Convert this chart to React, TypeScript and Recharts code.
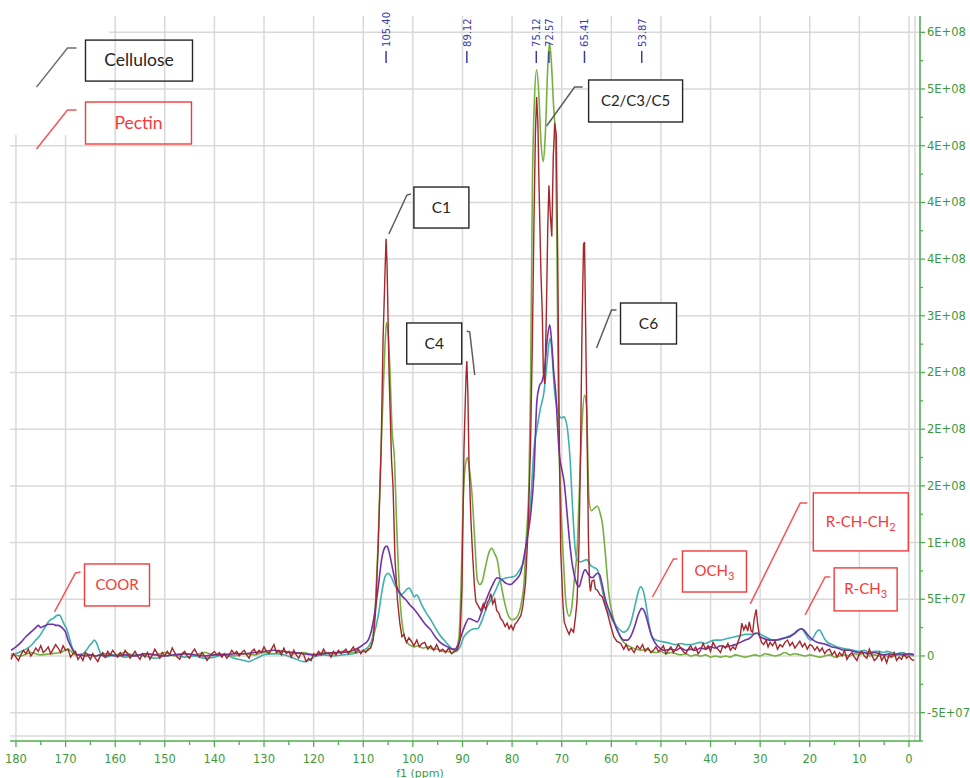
import React from 'react';
import {
  LineChart,
  Line,
  XAxis,
  YAxis,
  CartesianGrid,
  ReferenceLine,
  ReferenceArea,
  ReferenceDot,
  Label,
} from 'recharts';

// ---------- axis ticks (ppm / intensity in millions) ----------
const X_TICKS = [0, 5, 10, 15, 20, 25, 30, 35, 40, 45, 50, 55, 60, 65, 70, 75, 80, 85, 90, 95, 100, 105, 110, 115, 120, 125, 130, 135, 140, 145, 150, 155, 160, 165, 170, 175, 180];
const X_GRID = [0, 10, 20, 30, 40, 50, 60, 70, 80, 90, 100, 110, 120, 130, 140, 150, 160, 170, 180];
const Y_TICKS = [-75, -50, -25, 0, 25, 50, 75, 100, 125, 150, 175, 200, 225, 250, 275, 300, 325, 350, 375, 400, 425, 450, 475, 500, 525, 550];
const Y_MAJOR = [-50, 0, 50, 100, 150, 200, 250, 300, 350, 400, 450, 500, 550];
const Y_LABELS = ['-5E+07', '0', '5E+07', '1E+08', '2E+08', '2E+08', '2E+08', '3E+08', '4E+08', '4E+08', '4E+08', '5E+08', '6E+08'];

// ---------- peak picking labels ----------
const PEAK_PPM = [105.4, 89.12, 75.12, 72.57, 65.41, 53.87];
const PEAK_TEXT = ['105.40', '89.12', '75.12', '72.57', '65.41', '53.87'];

// ---------- spectra: [ppm, intensity (x1e6)] ----------
const RED: [number, number][] = [
  [181, -3], [180.5, 2], [180, -1], [179.5, -4], [179, 1], [178.5, 5], [178, 2], [177.5, 6], [177, 0], [176.5, 3],
  [176, 7], [175.5, 4], [175, 9], [174.5, 3], [174, 5], [173.5, 8], [173, 2], [172.5, 6], [172, 10], [171.5, 7],
  [171, 3], [170.5, 9], [170, 5], [169.5, 6], [169, -1], [168.5, 2], [168, 4], [167.5, -3], [167, 0], [166.5, -4],
  [166, 3], [165.5, 1], [165, -3], [164.5, 2], [164, -2], [163.5, -5], [163, 0], [162.5, 3], [162, -1], [161.5, 4],
  [161, 1], [160.5, 5], [160, 2], [159.5, -1], [159, 3], [158.5, 0], [158, 5], [157.5, 2], [157, -2], [156.5, 1],
  [156, 4], [155.5, 0], [155, -3], [154.5, 2], [154, -1], [153.5, 3], [153, -3], [152.5, 1], [152, 6], [151.5, 2],
  [151, -2], [150.5, 3], [150, 0], [149.5, 4], [149, 1], [148.5, 7], [148, 3], [147.5, -1], [147, -3], [146.5, 2],
  [146, 4], [145.5, 0], [145, -2], [144.5, 3], [144, 6], [143.5, 2], [143, -1], [142.5, 3], [142, 0], [141.5, -4],
  [141, -1], [140.5, 2], [140, 4], [139.5, 1], [139, 3], [138.5, -1], [138, 2], [137.5, -2], [137, 1], [136.5, 5],
  [136, 2], [135.5, 4], [135, 0], [134.5, 3], [134, 5], [133.5, 1], [133, -2], [132.5, 4], [132, 6], [131.5, 2],
  [131, 5], [130.5, 3], [130, 8], [129.5, 4], [129, 2], [128.5, 6], [128, 10], [127.5, 3], [127, 5], [126.5, 1],
  [126, 7], [125.5, 2], [125, 4], [124.5, -1], [124, 5], [123.5, 1], [123, -2], [122.5, 3], [122, 1], [121.5, -5],
  [121, -2], [120.5, -4], [120, 2], [119.5, 0], [119, 4], [118.5, 1], [118, 6], [117.5, 2], [117, 3], [116.5, -1],
  [116, 4], [115.5, 1], [115, 5], [114.5, 2], [114, 4], [113.5, 6], [113, 2], [112.5, 5], [112, 8], [111.5, 3],
  [111, 6], [110.5, 2], [110, 5], [109.5, 3], [109, 6], [108.5, 7], [108, 14], [107.5, 40], [107, 95], [106.4, 182],
  [106, 280], [105.6, 340], [105.4, 368], [105.2, 345], [104.8, 250], [104.3, 173], [104, 150], [103.6, 85], [103.1, 49], [102.6, 28],
  [102.2, 17], [101.8, 19], [101.3, 12], [100.8, 16], [100.3, 13], [99.8, 9], [99.2, 14], [98.7, 8], [98.2, 11], [97.6, 12],
  [97, 6], [96.4, 9], [95.8, 5], [95.2, 10], [94.6, 4], [94, 6], [93.4, 3], [92.8, 7], [92.2, 2], [91.6, 4],
  [91, 6], [90.5, 14], [90.1, 60], [89.7, 182], [89.3, 245], [89.12, 260], [88.9, 230], [88.7, 173], [88.3, 120], [88, 93],
  [87.6, 62], [87.3, 48], [86.8, 44], [86.3, 40], [85.8, 46], [85.3, 41], [85, 47], [84.6, 50], [84.3, 55], [83.9, 46],
  [83.5, 50], [83.1, 40], [82.7, 38], [82.3, 33], [81.9, 31], [81.4, 26], [81, 29], [80.6, 24], [80.2, 27], [79.8, 23],
  [79.4, 28], [79, 30], [78.6, 33], [78.2, 36], [77.8, 45], [77.3, 64], [76.8, 110], [76.3, 182], [75.9, 280], [75.6, 380],
  [75.3, 460], [75.05, 493], [74.8, 470], [74.5, 400], [74.2, 340], [73.9, 300], [73.7, 250], [73.4, 240], [73.1, 300], [72.8, 380],
  [72.57, 415], [72.3, 390], [72, 370], [71.7, 440], [71.4, 470], [71.1, 460], [70.8, 350], [70.5, 200], [70.2, 93], [69.8, 50],
  [69.5, 30], [69, 24], [68.5, 19], [68.1, 24], [67.6, 21], [67.2, 35], [66.9, 49], [66.5, 100], [66.2, 182], [65.9, 290],
  [65.6, 363], [65.4, 365], [65.2, 300], [64.9, 200], [64.6, 100], [64.4, 65], [64.2, 57], [63.9, 66], [63.5, 67], [63.2, 59],
  [62.8, 58], [62.3, 54], [61.8, 52], [61.3, 45], [60.8, 38], [60.2, 28], [59.5, 17], [58.9, 13], [58.1, 11], [57.5, 6],
  [57, 10], [56.5, 5], [56, 7], [55.4, 3], [54.8, 9], [54.2, 6], [53.7, 10], [53.2, 4], [52.6, 7], [52, 3],
  [51.5, 5], [51, 8], [50.5, 4], [50, 6], [49.5, 9], [49, 2], [48.5, 5], [48, 8], [47.5, 3], [47, 6],
  [46.5, 10], [46, 7], [45.5, 4], [45, 2], [44.5, 6], [44, 9], [43.5, 5], [43, 8], [42.5, 2], [42, 5],
  [41.5, 11], [41, 6], [40.5, 9], [40, 4], [39.5, 12], [39, 8], [38.5, 6], [38, 3], [37.5, 9], [37, 7],
  [36.5, 11], [36, 5], [35.5, 8], [35, 6], [34.5, 12], [34, 18], [33.7, 29], [33.3, 23], [32.9, 27], [32.5, 22],
  [32.2, 30], [31.8, 22], [31.5, 21], [31.2, 33], [30.8, 41], [30.5, 28], [30.1, 17], [29.7, 12], [29.3, 10], [28.8, 14],
  [28.4, 8], [28, 12], [27.5, 9], [27, 13], [26.5, 6], [26, 10], [25.5, 8], [25, 12], [24.5, 14], [24, 9],
  [23.5, 12], [23, 7], [22.5, 10], [22, 13], [21.5, 8], [21, 11], [20.5, 6], [20, 10], [19.5, 9], [19, 5],
  [18.5, 8], [18, 4], [17.5, 7], [17, 2], [16.5, 5], [16, 6], [15.5, 1], [15, 4], [14.5, -1], [14, 3],
  [13.5, 0], [13, 5], [12.5, -3], [12, 1], [11.5, 3], [11, -1], [10.5, -4], [10, 2], [9.5, 4], [9, 0],
  [8.5, -2], [8, 6], [7.5, 1], [7, -4], [6.5, -2], [6, 3], [5.5, -4], [5, 0], [4.5, -6], [4, 1],
  [3.5, -1], [3, 3], [2.5, -4], [2, -1], [1.5, -3], [1, 2], [0.5, -2], [0, 0], [-0.5, -3], [-1, -4],
];

const GREEN: [number, number][] = [
  [181, 2], [179, 0], [177, 3], [175, 1], [173, 2], [171, 3], [169.5, 6], [168, 1], [166, 2], [164, 0],
  [162, 2], [160, 1], [158, 3], [156, 0], [154, 2], [152, 1], [150, 3], [148, 0], [146, 2], [144, 1],
  [142, 3], [140, 1], [138, 2], [136, 0], [134, 2], [132, 1], [130, 3], [128, 2], [126, 4], [124, 2],
  [122, 3], [120, 1], [118, 3], [116, 2], [114, 4], [112, 3], [110, 4], [109, 5], [108.5, 8], [108, 20],
  [107.5, 50], [107, 100], [106.4, 182], [106, 230], [105.6, 275], [105.3, 294], [105, 285], [104.6, 250], [104.2, 200], [103.7, 173],
  [103.3, 120], [102.7, 58], [102.2, 30], [101.7, 17], [101, 11], [100.3, 9], [99.7, 8], [99, 9], [98, 7], [97, 8],
  [96, 6], [95, 6], [94, 4], [93, 4], [92, 3], [91.3, 5], [90.7, 17], [90.3, 60], [89.9, 130], [89.5, 165],
  [89, 175], [88.6, 165], [88, 138], [87.5, 100], [87, 67], [86.5, 63], [86, 66], [85.3, 80], [84.6, 92], [84.1, 95],
  [83.5, 90], [83, 85], [82.3, 65], [81.6, 49], [80.8, 36], [80, 32], [79.3, 33], [78.6, 38], [78, 50], [77.6, 64],
  [77.2, 100], [76.6, 152], [76.3, 230], [75.9, 417], [75.5, 490], [75.05, 517], [74.6, 495], [74.2, 455], [73.7, 436], [73.3, 460],
  [72.8, 520], [72.45, 541], [72.1, 525], [71.7, 490], [71.2, 446], [70.9, 330], [70.6, 200], [70.2, 140], [69.6, 80], [69.1, 45],
  [68.5, 35], [68, 42], [67.4, 70], [66.9, 93], [66.4, 150], [65.9, 205], [65.4, 230], [65, 220], [64.5, 138], [64, 128],
  [63.5, 130], [62.8, 132], [62.2, 125], [61.8, 117], [61.2, 90], [60.5, 55], [59.7, 35], [58.8, 23], [58, 15], [57, 10],
  [56.1, 8], [55, 6], [54, 5], [53, 6], [52, 4], [51, 3], [50, 4], [49, 2], [48, 3], [47, 2],
  [46, 1], [45, 2], [44, 0], [43, 1], [42, 0], [41, 1], [40, -1], [39, 0], [38, -1], [37, 0],
  [36, -1], [35, 1], [34, 0], [33, -1], [32, 0], [31, 1], [30, 0], [29, 2], [28, 1], [27, 0],
  [26, 1], [25, 3], [24, 1], [23, 2], [22, 1], [21, 0], [20, 1], [19, 0], [18, -1], [17, 0],
  [16, 1], [15, -1], [14, 0], [13, 1], [12, 0], [11, 2], [10, 1], [9, 3], [8, 0], [7, 1],
  [6, 0], [5, 1], [4, -1], [3, 0], [2, 1], [1, 0], [0, 1], [-1, 0],
];

const PURPLE: [number, number][] = [
  [181, 5], [180, 8], [179, 12], [178, 17], [177, 21], [176, 25], [175.5, 27], [175, 25], [174.5, 26], [174, 27],
  [173.5, 28], [173, 28], [172.5, 28], [172, 27], [171.5, 27], [171, 26], [170.5, 24], [170, 21], [169.5, 14], [169, 9],
  [168.5, 5], [168, 2], [167.5, 1], [167, 1], [166, 0], [165, 1], [164, 0], [163, 1], [162, 0], [161, 1],
  [160, 0], [158, 1], [156, 0], [154, 2], [152, 1], [150, 0], [148, 1], [146, 2], [144, 1], [142, 0],
  [140, 1], [138, 1], [136, 2], [134, 2], [132, 3], [130, 4], [128, 5], [126, 4], [124, 3], [122, 2],
  [120, 1], [118, 2], [116, 3], [114, 3], [112, 5], [111, 7], [110, 10], [109, 14], [108.5, 20], [107.8, 35],
  [107, 60], [106.3, 85], [105.6, 96], [105.2, 97], [104.7, 90], [104, 75], [103.3, 62], [102.4, 54], [101.5, 50], [100.6, 45],
  [99.7, 41], [98.5, 34], [97.5, 28], [96.4, 23], [95.5, 17], [94.5, 12], [93, 8], [92, 6], [91.5, 6], [91, 9],
  [90.3, 17], [89.5, 27], [88.7, 33], [88, 32], [87, 30], [86.2, 38], [85, 52], [84, 62], [83, 69], [82, 67],
  [81.2, 64], [80.3, 63], [79.5, 66], [78.3, 73], [77.5, 90], [76.8, 108], [76.3, 123], [75.6, 160], [75, 225], [74.5, 238],
  [73.9, 243], [73.4, 255], [72.9, 280], [72.4, 292], [72, 275], [71.6, 250], [71.2, 232], [70.8, 200], [70.5, 179], [70, 165],
  [69.5, 153], [69, 130], [68.5, 105], [68, 85], [67.5, 72], [67, 64], [66.5, 61], [66, 68], [65.5, 75], [65.2, 76],
  [64.8, 73], [64.3, 70], [63.8, 69], [63.3, 71], [62.8, 73], [62.4, 72], [61.8, 62], [61.2, 50], [60.6, 42], [60.2, 38],
  [59.5, 30], [58.5, 20], [57.5, 14], [56.8, 14], [56, 18], [55.3, 26], [54.6, 36], [54.1, 41], [53.8, 42], [53.4, 40],
  [52.8, 32], [52.2, 22], [51.4, 13], [50.5, 8], [49.4, 5], [48, 6], [47, 5], [46, 7], [45, 5], [44, 6],
  [43, 5], [42, 7], [41, 6], [40, 8], [39, 7], [38, 9], [37, 8], [36, 9], [35, 10], [34, 12],
  [33, 14], [32, 16], [31.3, 19], [30.6, 20], [30, 17], [29, 15], [28, 14], [27, 14], [26, 15], [25, 16],
  [24, 17], [23, 20], [22.2, 23], [21.6, 24], [21, 22], [20.3, 18], [19.3, 14], [18.5, 12], [17.5, 11], [16.6, 10],
  [15.5, 8], [14.5, 7], [13, 5], [12, 5], [11.2, 4], [10, 3], [9, 3], [8, 2], [7, 3], [6, 2],
  [5, 1], [4, 2], [3, 1], [2, 2], [1, 1], [0, 2], [-1, 1],
];

const TEAL: [number, number][] = [
  [181, 0], [180, 2], [179, 4], [178, 6], [177, 9], [176, 14], [175, 19], [174.5, 23], [174, 26], [173.5, 30],
  [173, 32], [172.5, 33], [172, 35], [171.5, 36], [171.2, 36], [170.8, 33], [170.3, 28], [169.8, 24], [169.3, 17], [168.8, 9],
  [168.3, 4], [167.8, 1], [167.2, 1], [166.5, 2], [165.8, 5], [165.2, 9], [164.6, 12], [164.2, 14], [163.8, 12], [163.3, 6],
  [162.8, 1], [162, -1], [161, 0], [160, 1], [158, -1], [156, 1], [154, 0], [152, -2], [150, 0], [148, 1],
  [146, -1], [144, 0], [142, -2], [140, -1], [138, 1], [136, -2], [134, -4], [133, -5], [132, -3], [131, -1],
  [130, 1], [128, 2], [126, 1], [124, -2], [122, -5], [121, -4], [120, -1], [118, 1], [116, 0], [114, 1],
  [112, 2], [111, 3], [110, 5], [109, 8], [108, 17], [107, 35], [106.3, 55], [105.6, 70], [105, 73], [104.4, 70],
  [103.6, 62], [102.8, 56], [102.4, 54], [101.8, 56], [101.2, 59], [100.7, 60], [100.2, 56], [99.7, 52], [99.3, 54], [98.9, 52],
  [98.2, 45], [97.3, 38], [96.4, 32], [95.5, 25], [94.5, 18], [93.7, 14], [92.5, 8], [91.3, 4], [90.5, 8], [89.7, 17],
  [88.9, 21], [88.3, 23], [87.5, 24], [87, 24], [86, 32], [85.2, 42], [84.3, 49], [83.3, 58], [82.3, 67], [81, 69],
  [79.6, 70], [78.6, 75], [77.6, 85], [76.8, 110], [76.2, 140], [75.6, 182], [75, 200], [74.3, 218], [73.6, 232], [72.9, 261],
  [72.4, 280], [72, 270], [71.7, 250], [71.4, 232], [71, 220], [70.4, 211], [70, 210], [69.5, 211], [69.2, 208], [68.9, 202],
  [68.6, 190], [68.3, 173], [67.8, 130], [67.3, 95], [66.9, 85], [66.3, 83], [65.6, 84], [64.9, 85], [64.2, 80], [63.5, 78],
  [62.8, 76], [62.2, 66], [61.5, 52], [60.8, 40], [60.2, 35], [59.5, 30], [58.5, 24], [57.5, 21], [56.6, 24], [55.9, 32],
  [55.2, 45], [54.6, 56], [54.1, 61], [53.6, 58], [53, 45], [52.4, 28], [51.8, 17], [51, 14], [50.1, 13], [49, 12],
  [48, 11], [47, 10], [46, 11], [45, 10], [44, 10], [43, 11], [42, 12], [41, 11], [40, 13], [39, 14],
  [38, 14], [37, 15], [36, 16], [35, 17], [34, 18], [33, 19], [32, 19], [31, 20], [30.3, 20], [29.5, 18],
  [28.5, 16], [27.5, 14], [26.6, 14], [25.5, 15], [24.5, 17], [23.5, 19], [22.6, 22], [21.9, 24], [21.4, 23], [20.8, 19],
  [20.2, 15], [19.8, 14], [19.3, 16], [18.7, 21], [18.1, 23], [17.6, 20], [17, 15], [16.4, 12], [15.5, 10], [14.5, 8],
  [13.5, 7], [12.5, 6], [11.2, 5], [10, 4], [9, 5], [8, 3], [7, 4], [6, 4], [5, 3], [4.5, 4],
  [3.5, 3], [2.5, 2], [1.5, 3], [0.5, 2], [-0.8, 2],
];

// ---------- styles ----------
const AXIS_GREEN = '#4fae4f';
const TICK_GREEN = '#3c9a3c';
const GRID = '#d9d9d9';
const PEAK_BLUE = '#3b3ba8';
const NOTE_RED = '#f23b3b';
const NOTE_BLACK = '#262626';
const LEAD_GRAY = '#5c5c5c';
const LEAD_RED = '#f45656';
const X_DOMAIN: [number, number] = [-2.22, 181.2];
const Y_DOMAIN: [number, number] = [-75, 564.4];
const PEAK_MARK_Y = 523;

type Note = {
  text: string;
  sub?: string;
  ppm: number;
  val: number;
  color: string;
  lead: string;
  path: [number, number][];
  box: [number, number, number, number];
  filled: boolean;
  size: number;
};

const NOTES: Note[] = [
  { text: 'Cellulose', ppm: 175.86, val: 501.7, color: NOTE_BLACK, lead: '#6e6e6e', path: [[31, -39], [40, -39]], box: [49, -47, 107, 41], filled: false, size: 17.5 },
  { text: 'Pectin', ppm: 175.86, val: 447.1, color: NOTE_RED, lead: LEAD_RED, path: [[31, -39], [40, -39]], box: [49, -47, 106, 42], filled: false, size: 17.5 },
  { text: 'C1', ppm: 104.83, val: 372.1, color: NOTE_BLACK, lead: LEAD_GRAY, path: [[18, -39], [22, -40]], box: [25, -47, 55, 41], filled: true, size: 15.5 },
  { text: 'C4', ppm: 87.53, val: 247.8, color: NOTE_BLACK, lead: LEAD_GRAY, path: [[-5, -43], [-8, -44]], box: [-68, -52, 55, 41], filled: true, size: 15.5 },
  { text: 'C2/C3/C5', ppm: 73.04, val: 467.4, color: NOTE_BLACK, lead: LEAD_GRAY, path: [[28, -39], [36, -39]], box: [42, -46, 94, 42], filled: true, size: 15 },
  { text: 'C6', ppm: 62.98, val: 271.6, color: NOTE_BLACK, lead: LEAD_GRAY, path: [[15, -38], [20, -38]], box: [24, -45, 56, 41], filled: true, size: 15.5 },
  { text: 'COOR', ppm: 172.23, val: 38.8, color: NOTE_RED, lead: LEAD_RED, path: [[21, -39], [26, -40]], box: [30, -48, 65, 42], filled: true, size: 15 },
  { text: 'OCH', sub: '3', ppm: 51.71, val: 52.0, color: NOTE_RED, lead: LEAD_RED, path: [[21, -38], [25, -38]], box: [30, -46, 64, 41], filled: true, size: 15 },
  { text: 'R-CH-CH', sub: '2', ppm: 31.99, val: 45.9, color: NOTE_RED, lead: LEAD_RED, path: [[50, -101], [57, -101]], box: [63, -111, 95, 58], filled: true, size: 15 },
  { text: 'R-CH', sub: '3', ppm: 20.93, val: 36.2, color: NOTE_RED, lead: LEAD_RED, path: [[20, -38], [25, -38]], box: [29, -47, 63, 43], filled: true, size: 15 },
];

const toRows = (pairs: [number, number][]) => pairs.map(([ppm, v]) => ({ ppm, v }));
const redData = toRows(RED);
const greenData = toRows(GREEN);
const purpleData = toRows(PURPLE);
const tealData = toRows(TEAL);

const XTick = (props: any) => {
  const { x, y, payload } = props;
  const v = payload.value as number;
  const major = v % 10 === 0;
  return (
    <g>
      <line x1={x} y1={y} x2={x} y2={y + (major ? 6 : 4)} stroke={AXIS_GREEN} strokeWidth={1.3} />
      {major && (
        <text x={x} y={y + 22} textAnchor="middle" fill={TICK_GREEN} fontSize={11.5} fontFamily="DejaVu Sans">
          {v}
        </text>
      )}
    </g>
  );
};

const YTick = (props: any) => {
  const { x, y, payload } = props;
  const v = payload.value as number;
  const idx = Y_MAJOR.indexOf(v);
  const major = idx >= 0;
  return (
    <g>
      <line x1={x} y1={y} x2={x + (major ? 5 : 3)} y2={y} stroke={AXIS_GREEN} strokeWidth={1.3} />
      {major && (
        <text x={x + 7} y={y + 4} textAnchor="start" fill={TICK_GREEN} fontSize={11.5} fontFamily="DejaVu Sans">
          {Y_LABELS[idx]}
        </text>
      )}
    </g>
  );
};

const peakShape = (label: string) => (p: any) => {
  if (p.cx == null || p.cy == null) return <g />;
  return (
    <g>
      <line x1={p.cx} y1={p.cy} x2={p.cx} y2={p.cy - 12} stroke={PEAK_BLUE} strokeWidth={1.5} />
      <text
        transform={`translate(${p.cx + 4},${p.cy - 16}) rotate(-90)`}
        fill={PEAK_BLUE}
        fontSize={10}
        fontFamily="DejaVu Sans"
      >
        {label}
      </text>
    </g>
  );
};

const noteShape = (n: Note) => (p: any) => {
  if (p.cx == null || p.cy == null) return <g />;
  const cx = p.cx;
  const cy = p.cy;
  const [bx, by, bw, bh] = n.box;
  const pts = [[0, 0] as [number, number], ...n.path].map(([dx, dy]) => `${cx + dx},${cy + dy}`).join(' ');
  return (
    <g>
      <polyline points={pts} fill="none" stroke={n.lead} strokeWidth={1.5} />
      <rect
        x={cx + bx}
        y={cy + by}
        width={bw}
        height={bh}
        fill={n.filled ? '#ffffff' : 'none'}
        stroke={n.color}
        strokeWidth={1.4}
      />
      <text
        x={cx + bx + bw / 2}
        y={cy + by + bh / 2 + n.size * 0.33}
        textAnchor="middle"
        fill={n.color}
        fontSize={n.size}
        fontFamily="Lato, 'Open Sans', sans-serif"
      >
        {n.text}
        {n.sub ? (
          <tspan dy={4} fontSize={11}>
            {n.sub}
          </tspan>
        ) : null}
      </text>
    </g>
  );
};

export default function App() {
  return (
    <div style={{ position: 'absolute', left: 0, top: 0, width: 970, height: 778, background: '#ffffff' }}>
      <LineChart width={970} height={778} margin={{ top: 16, right: 0, bottom: 0, left: 10 }}>
        <CartesianGrid stroke={GRID} strokeWidth={1.5} verticalValues={X_GRID} horizontalValues={Y_MAJOR} />
        <XAxis
          dataKey="ppm"
          type="number"
          domain={X_DOMAIN}
          allowDataOverflow
          reversed
          ticks={X_TICKS}
          interval={0}
          height={37}
          tickSize={0}
          tickMargin={0}
          tickLine={false}
          axisLine={{ stroke: AXIS_GREEN, strokeWidth: 1.6 }}
          tick={XTick}
        >
          <Label
            content={(props: any) => {
              const vb = props.viewBox || { x: 10, y: 741 };
              return (
                <text x={vb.x + 410} y={vb.y + 35.5} textAnchor="middle" fill={TICK_GREEN} fontSize={11} fontFamily="DejaVu Sans">
                  f1 (ppm)
                </text>
              );
            }}
          />
        </XAxis>
        <YAxis
          orientation="right"
          type="number"
          domain={Y_DOMAIN}
          allowDataOverflow
          ticks={Y_TICKS}
          interval={0}
          width={50}
          tickSize={0}
          tickMargin={0}
          tickLine={false}
          axisLine={{ stroke: AXIS_GREEN, strokeWidth: 1.6 }}
          tick={YTick}
        />
        <ReferenceLine x={-1.2} stroke={GRID} strokeWidth={1.5} />
        <ReferenceLine y={-70.5} stroke={GRID} strokeWidth={1.5} />
        <ReferenceArea x1={161.2} x2={181.2} y1={459.4} y2={564.4} fill="#ffffff" fillOpacity={1} stroke="none" />

        <Line data={greenData} dataKey="v" type="monotone" stroke="#77b041" strokeWidth={1.6} dot={false} isAnimationActive={false} />
        <Line data={tealData} dataKey="v" type="monotone" stroke="#3fb1ae" strokeWidth={1.6} dot={false} isAnimationActive={false} />
        <Line data={purpleData} dataKey="v" type="monotone" stroke="#6f34a8" strokeWidth={1.6} dot={false} isAnimationActive={false} />
        <Line data={redData} dataKey="v" type="linear" stroke="#a3272c" strokeWidth={1.4} dot={false} isAnimationActive={false} />

        {PEAK_PPM.map((ppm, i) => (
          <ReferenceDot key={`pk${i}`} x={ppm} y={PEAK_MARK_Y} r={0} shape={peakShape(PEAK_TEXT[i])} />
        ))}
        {NOTES.map((n, i) => (
          <ReferenceDot key={`nt${i}`} x={n.ppm} y={n.val} r={0} shape={noteShape(n)} />
        ))}
      </LineChart>
    </div>
  );
}
